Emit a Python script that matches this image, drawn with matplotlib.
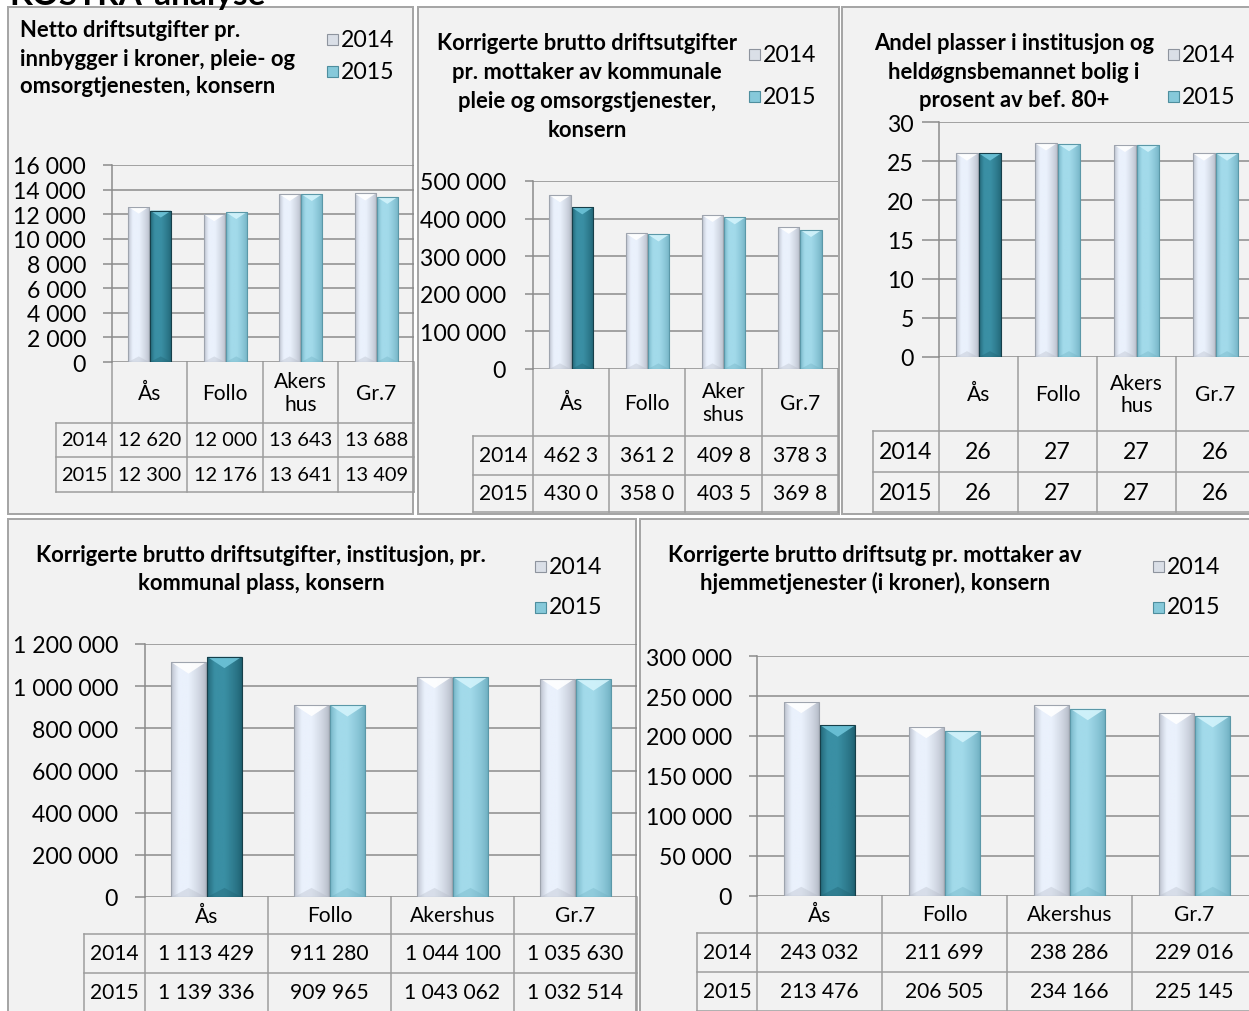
import numpy as np
import matplotlib
matplotlib.use('Agg')
import matplotlib.pyplot as plt
from matplotlib.patches import Rectangle, Polygon
from matplotlib.ticker import MultipleLocator, FuncFormatter
from matplotlib.colors import to_rgb

plt.rcParams['font.family'] = ['Lato', 'DejaVu Sans']

W, H = 1249, 1012
PT = 0.72  # points per pixel at dpi 100

years = ['2014', '2015']

# Netto driftsutgifter pr. innbygger
netto_cats = ['Ås', 'Follo', 'Akers\nhus', 'Gr.7']
netto_2014 = [12620, 12000, 13643, 13688]
netto_2015 = [12300, 12176, 13641, 13409]

# Korr. brutto driftsutgifter pr. mottaker (table cells are clipped in the source)
mottaker_cats = ['Ås', 'Follo', 'Aker\nshus', 'Gr.7']
mottaker_2014 = [462300, 361200, 409800, 378300]
mottaker_2015 = [430000, 358000, 403500, 369800]

# Andel plasser i institusjon
andel_cats = ['Ås', 'Follo', 'Akers\nhus', 'Gr.7']
andel_2014 = [26.0, 27.3, 27.1, 26.0]
andel_2015 = [26.0, 27.2, 27.1, 26.0]

# Institusjon pr. kommunal plass
inst_cats = ['Ås', 'Follo', 'Akershus', 'Gr.7']
inst_2014 = [1113429, 911280, 1044100, 1035630]
inst_2015 = [1139336, 909965, 1043062, 1032514]

# Hjemmetjenester pr. mottaker
hjem_cats = ['Ås', 'Follo', 'Akershus', 'Gr.7']
hjem_2014 = [243032, 211699, 238286, 229016]
hjem_2015 = [213476, 206505, 234166, 225145]

GRID = '#8A8A8A'
BORDER = '#A6A6A6'
TABLE = '#9C9C9C'


def thousands(v):
    return f"{int(round(v)):,}".replace(',', ' ')


fig = plt.figure(figsize=(W / 100, H / 100), dpi=100)
fig.patch.set_facecolor('white')

# overlay in pixel coordinates for frames, titles, legends and tables
ov = fig.add_axes([0, 0, 1, 1], zorder=0)
ov.set_xlim(0, W)
ov.set_ylim(H, 0)
ov.axis('off')

ov.text(9, 5, 'KOSTRA-analyse', fontsize=24, fontweight='bold', va='baseline', ha='left')


def shade_bars(ax, bars, c_edge, c_mid, c_top, c_line, ypp):
    u = np.linspace(0, 1, 48)
    prof = np.clip(np.minimum(u / 0.22, (1 - u) / 0.5), 0, 1) ** 0.7
    e = np.array(to_rgb(c_edge))
    m = np.array(to_rgb(c_mid))
    row = e[None, :] * (1 - prof[:, None]) + m[None, :] * prof[:, None]
    img = np.repeat(row[None, :, :], 2, axis=0)
    for b in bars:
        x0, w, h = b.get_x(), b.get_width(), b.get_height()
        im = ax.imshow(img, extent=[x0, x0 + w, 0, h], aspect='auto',
                       interpolation='bilinear', zorder=3)
        im.set_clip_path(b)
        # depth of the bevel chevrons in data units
        wpx = w / ax._xpp
        dy = 0.33 * wpx * ypp
        ax.add_patch(Polygon([[x0, h], [x0 + w, h], [x0 + w / 2, h - dy]],
                             closed=True, fc=c_top, ec='none', alpha=0.9, zorder=4))
        ax.add_patch(Polygon([[x0, 0], [x0 + w, 0], [x0 + w / 2, dy * 0.8]],
                             closed=True, fc=c_edge, ec='none', alpha=0.35, zorder=4))
        ax.add_patch(Rectangle((x0, 0), w, h, fc='none', ec=c_line, lw=0.8, zorder=5))


def panel(box, plot, ymax, ystep, cats, v14, v15, title, title_x, title_ha, title_y,
          leg_x, leg_y, rows, yearcol, cell_fmt, tick_len, tick_pad, table_fs=21):
    bx0, by0, bx1, by1 = box
    ov.add_patch(Rectangle((bx0, by0), bx1 - bx0, by1 - by0, fc='#F2F2F2',
                           ec=BORDER, lw=2 * PT, zorder=0))
    for line, yb in zip(title, title_y):
        ov.text(title_x, yb, line, fontsize=22 * PT, fontweight='bold',
                ha=title_ha, va='baseline')
    # legend
    for yr, yc, fc, ec in zip(years, leg_y, ['#DADFE7', '#86C9DA'], ['#8E949E', '#4E8E9E']):
        ov.add_patch(Rectangle((leg_x, yc - 5.5), 11, 11, fc=fc, ec=ec, lw=0.8, zorder=2))
        ov.text(leg_x + 14, yc, yr, fontsize=23 * PT, va='center', ha='left')

    l, t, r, b = plot
    ax = fig.add_axes([l / W, 1 - b / H, (r - l) / W, (b - t) / H], zorder=2)
    ax.set_facecolor('none')
    ax.set_xlim(-0.5, len(cats) - 0.5)
    ax.set_ylim(0, ymax)
    ax._xpp = len(cats) / (r - l)
    ypp = ymax / (b - t)

    x = np.arange(len(cats))
    bw = 0.28
    b14 = ax.bar(x - bw / 2 - 0.006, v14, bw, color='#E6EDF8', zorder=3)
    b15 = ax.bar(x + bw / 2 + 0.006, v15, bw, color='#9ED6E6', zorder=3)
    shade_bars(ax, b14, '#B4BAC6', '#EAF1FC', '#FFFFFF', '#9EA4AE', ypp)
    shade_bars(ax, b15[1:], '#6FAFC1', '#A2DAEA', '#D2F3FB', '#5B98A8', ypp)
    shade_bars(ax, b15[:1], '#1E6070', '#3A8FA4', '#6DC3D8', '#173F4A', ypp)
    ax.set_xlim(-0.5, len(cats) - 0.5)
    ax.set_ylim(0, ymax)

    ax.yaxis.set_major_locator(MultipleLocator(ystep))
    ax.yaxis.set_major_formatter(FuncFormatter(lambda v, p: thousands(v)))
    ax.grid(axis='y', color=GRID, lw=1.5 * PT, zorder=1)
    ax.set_axisbelow(True)
    ax.set_xticks([])
    for s in ['top', 'right', 'bottom']:
        ax.spines[s].set_visible(False)
    ax.spines['left'].set_color(GRID)
    ax.spines['left'].set_linewidth(1.5 * PT)
    ax.tick_params(axis='y', length=tick_len * PT, width=1.5 * PT, color=GRID,
                   pad=tick_pad * PT, labelsize=23 * PT)

    # data table under the axis
    ct, cb, r1, r2 = rows
    cw = (r - l) / len(cats)
    xs = [l + i * cw for i in range(len(cats) + 1)]
    lw = 1.5 * PT
    for yy in (cb, r1, r2):
        ov.plot([yearcol, xs[-1]], [yy, yy], color=TABLE, lw=lw, zorder=1)
    for xx in xs:
        ov.plot([xx, xx], [ct, r2], color=TABLE, lw=lw, zorder=1)
    ov.plot([yearcol, yearcol], [cb, r2], color=TABLE, lw=lw, zorder=1)
    for i, c in enumerate(cats):
        cx = xs[i] + cw / 2
        ov.text(cx, (ct + cb) / 2, c, fontsize=21 * PT, ha='center', va='center',
                linespacing=1.15)
        ov.text(cx, (cb + r1) / 2, cell_fmt(v14[i]), fontsize=table_fs * PT,
                ha='center', va='center')
        ov.text(cx, (r1 + r2) / 2, cell_fmt(v15[i]), fontsize=table_fs * PT,
                ha='center', va='center')
    for yr, yc in zip(years, [(cb + r1) / 2, (r1 + r2) / 2]):
        ov.text((yearcol + l) / 2, yc, yr, fontsize=table_fs * PT, ha='center', va='center')
    return ax


panel((8, 8, 413, 515), (112, 166, 414, 363), 16000, 2000,
      netto_cats, netto_2014, netto_2015,
      ['Netto driftsutgifter pr.', 'innbygger i kroner, pleie- og', 'omsorgtjenesten, konsern'],
      20, 'left', [37, 66, 93], 327, [40, 72],
      (363, 424, 458, 493), 56, thousands, 9, 17, table_fs=20)

panel((418, 8, 839, 515), (533, 182, 838, 370), 500000, 100000,
      mottaker_cats, mottaker_2014, mottaker_2015,
      ['Korrigerte brutto driftsutgifter', 'pr. mottaker av kommunale',
       'pleie og omsorgstjenester,', 'konsern'],
      587, 'center', [50, 79, 108, 137], 749, [55, 97],
      (370, 437, 476, 513), 473, lambda v: thousands(v)[:5], 8, 19)

panel((842, 8, 1262, 515), (939, 123, 1255, 358), 30, 5,
      andel_cats, andel_2014, andel_2015,
      ['Andel plasser i institusjon og', 'heldøgnsbemannet bolig i', 'prosent av bef. 80+'],
      1014, 'center', [50, 79, 107], 1168, [55, 97],
      (358, 432, 473, 513), 873, lambda v: f"{v:.0f}", 17, 8, table_fs=23)

panel((8, 520, 636, 1022), (145, 645, 637, 898), 1200000, 200000,
      inst_cats, inst_2014, inst_2015,
      ['Korrigerte brutto driftsutgifter, institusjon, pr.', 'kommunal plass, konsern'],
      261, 'center', [562, 590], 535, [567, 608],
      (898, 935, 974, 1013), 84, thousands, 10, 17)

panel((640, 520, 1262, 1022), (757, 657, 1257, 897), 300000, 50000,
      hjem_cats, hjem_2014, hjem_2015,
      ['Korrigerte brutto driftsutg pr. mottaker av', 'hjemmetjenester (i kroner), konsern'],
      875, 'center', [562, 590], 1153, [567, 608],
      (897, 934, 973, 1012), 697, thousands, 8, 17)

fig.savefig('out.png', dpi=100, facecolor='white')
